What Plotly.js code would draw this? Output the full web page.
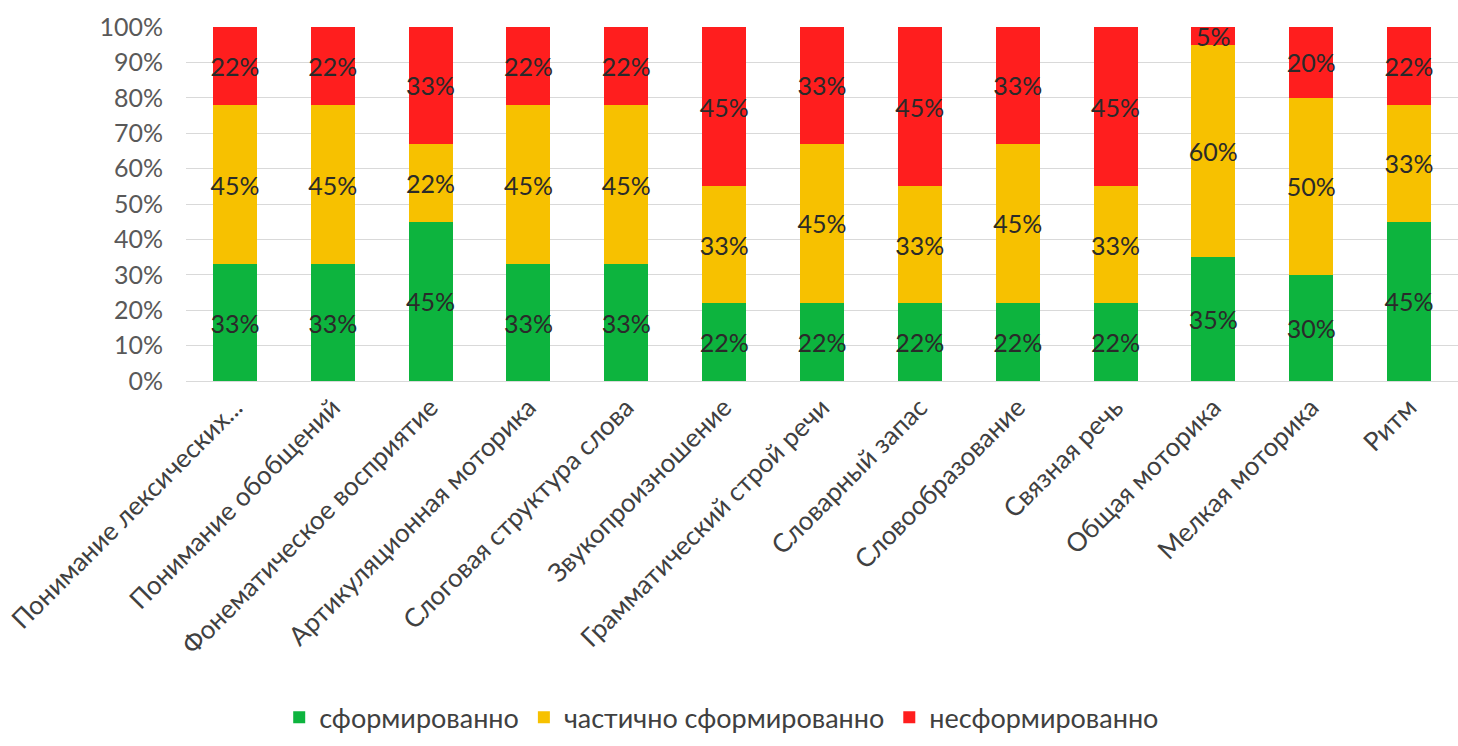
<!DOCTYPE html>
<html>
<head>
<meta charset="utf-8">
<script src="https://cdn.plot.ly/plotly-3.0.1.min.js"></script>
<style>html,body{margin:0;padding:0;background:#fff;}#chart{width:1458px;height:746px;}</style>
</head>
<body>
<div id="chart"></div>
<script>
const categories = ["Понимание лексических...", "Понимание обобщений", "Фонематическое восприятие", "Артикуляционная моторика", "Слоговая структура слова", "Звукопроизношение", "Грамматический строй речи", "Словарный запас", "Словообразование", "Связная речь", "Общая моторика", "Мелкая моторика", "Ритм"];
const formed = [33, 33, 45, 33, 33, 22, 22, 22, 22, 22, 35, 30, 45];
const partial = [45, 45, 22, 45, 45, 33, 45, 33, 45, 33, 60, 50, 33];
const unformed = [22, 22, 33, 22, 22, 45, 33, 45, 33, 45, 5, 20, 22];
const seriesNames = ["сформированно", "частично сформированно", "несформированно"];
const colors = ["#0DB43E", "#F7C100", "#FF1E1E"];

const font = "Lato, 'Open Sans', 'Liberation Sans', sans-serif";
const series = [formed, partial, unformed];
const traces = series.map((vals, i) => ({
  type: 'bar',
  name: seriesNames[i],
  x: categories,
  y: vals,
  marker: {color: colors[i]},
  text: vals.map(v => v + '%'),
  textposition: 'inside',
  insidetextanchor: 'middle',
  textangle: 0,
  constraintext: 'none',
  cliponaxis: false,
  textfont: {family: font, size: 25, color: '#2a2a2a'},
  hoverinfo: 'x+y+name'
}));

const layout = {
  width: 1458, height: 746,
  barmode: 'stack',
  bargap: 0.55,
  margin: {l: 186, r: 0, t: 27, b: 365},
  paper_bgcolor: '#fff', plot_bgcolor: '#fff',
  font: {family: font, color: '#595959'},
  uniformtext: {mode: 'show', minsize: 25},
  xaxis: {
    tickangle: -45,
    tickfont: {family: font, size: 26, color: '#404040'},
    showgrid: false,
    showline: true, linecolor: '#d9d9d9', linewidth: 1,
    ticks: ''
  },
  yaxis: {
    range: [0, 100],
    dtick: 10,
    ticksuffix: '%',
    tickfont: {family: font, size: 25, color: '#595959'},
    ticklabelstandoff: 22,
    gridcolor: '#d9d9d9',
    zeroline: false,
    ticks: ''
  },
  showlegend: true,
  legend: {
    orientation: 'h',
    xref: 'container', yref: 'container',
    x: 0.495, xanchor: 'center',
    y: 0.005, yanchor: 'bottom',
    font: {family: font, size: 27, color: '#404040'},
    traceorder: 'normal',
    itemwidth: 30
  }
};

Plotly.newPlot('chart', traces, layout, {displayModeBar: false, staticPlot: true});
</script>
</body>
</html>
